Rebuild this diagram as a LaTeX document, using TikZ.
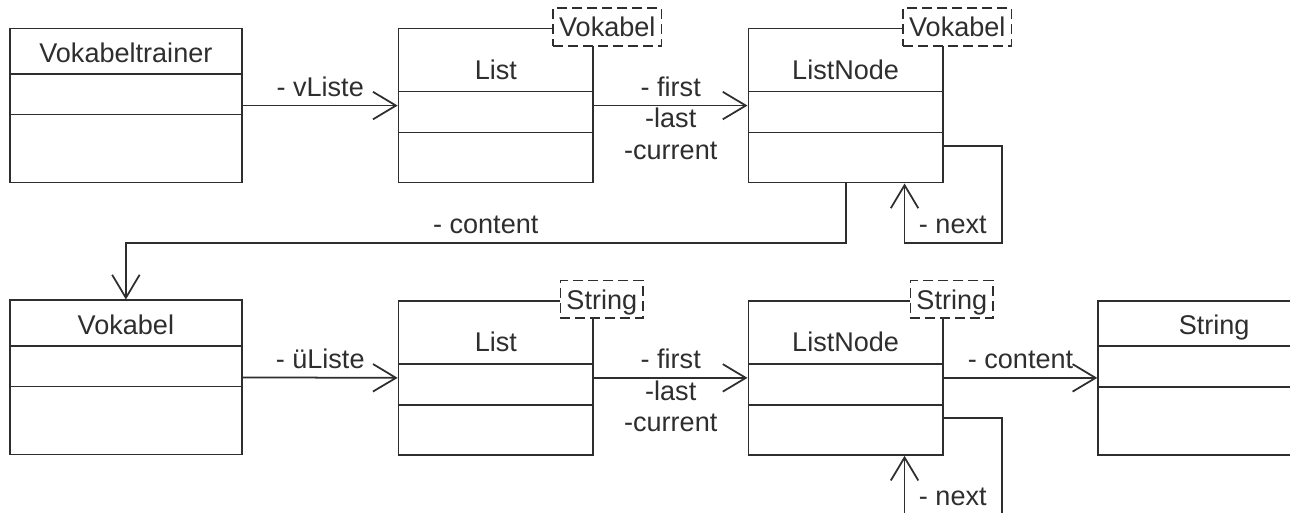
\documentclass[tikz,border=0pt]{standalone}
\usepackage{fontspec}
\setmainfont{Liberation Sans}
\usetikzlibrary{positioning,calc,arrows.meta,shapes.multipart}
\definecolor{ink}{HTML}{2E2E2E}
\tikzset{
  cls/.style  ={draw=ink, line width=1pt, rectangle split, rectangle split parts=3,
                inner sep=0pt, minimum width=4.64cm, anchor=north west,
                fill=white, text=ink, font=\fontsize{15.4}{18}\selectfont},
  gen/.style  ={cls, minimum width=3.89cm},
  % template parameter: dashed box over the top right corner
  tpl/.style  ={draw=ink, line width=1pt, dash pattern=on 0.2cm off 0.1cm,
                fill=white, inner xsep=0.12cm, inner ysep=0pt, minimum height=0.75cm,
                text height=0.4cm, text depth=0pt, text=ink,
                font=\fontsize{15.4}{18}\selectfont},
  assoc/.style={-{Straight Barb[length=0.46cm, width=0.55cm]}, draw=ink, line width=1pt},
  role/.style ={anchor=base, yshift=0.19cm, align=center, text=ink,
                font=\fontsize{15.4}{18}\selectfont},
  roles/.style={role, yshift=-1.27cm},
}
\begin{document}
\begin{tikzpicture}
    \useasboundingbox (0,0) rectangle (25.8,-10.26);
    \clip (0,0) rectangle (25.8,-10.26);
    \node[cls] (vt)   at (0.18,-0.554)  {\rule[-0.21cm]{0pt}{0.871cm}Vokabeltrainer
      \nodepart{two}\rule{0pt}{0.779cm}\nodepart{three}\rule{0pt}{1.325cm}};
    \node[gen] (lst1) at (7.954,-0.554) {\rule[-0.23cm]{0pt}{1.225cm}List
      \nodepart{two}\rule{0pt}{0.785cm}\nodepart{three}\rule{0pt}{0.965cm}};
    \node[gen] (ln1)  at (14.95,-0.554) {\rule[-0.23cm]{0pt}{1.225cm}ListNode
      \nodepart{two}\rule{0pt}{0.785cm}\nodepart{three}\rule{0pt}{0.965cm}};
    \node[cls] (vok)  at (0.18,-5.99)   {\rule[-0.21cm]{0pt}{0.871cm}Vokabel
      \nodepart{two}\rule{0pt}{0.779cm}\nodepart{three}\rule{0pt}{1.325cm}};
    \node[gen] (lst2) at (7.954,-6.0)   {\rule[-0.23cm]{0pt}{1.225cm}List
      \nodepart{two}\rule{0pt}{0.785cm}\nodepart{three}\rule{0pt}{0.965cm}};
    \node[gen] (ln2)  at (14.95,-6.0)   {\rule[-0.23cm]{0pt}{1.225cm}ListNode
      \nodepart{two}\rule{0pt}{0.785cm}\nodepart{three}\rule{0pt}{0.965cm}};
    \node[cls] (str)  at (21.946,-6.0)  {\rule[-0.21cm]{0pt}{0.871cm}String
      \nodepart{two}\rule{0pt}{0.779cm}\nodepart{three}\rule{0pt}{1.325cm}};
    \node[tpl] (tl1) at (12.146,-0.54)  {Vokabel};
    \node[tpl] (tn1) at (19.146,-0.54)  {Vokabel};
    \node[tpl] (tl2) at (12.036,-5.984) {String};
    \node[tpl] (tn2) at (19.036,-5.984) {String};
    \draw[assoc] (vt.east) -- node[role] {- vListe} (lst1.west);
    \draw[assoc] (lst1.east) -- node[roles] {- first\\-last\\-current} (ln1.west);
    \draw[assoc] (ln1.south) -- ++(0,-1.186) -| node[role, pos=0.25] {- content} (vok.north);
    \draw[assoc] ([yshift=0.75cm]ln1.south east) -| ++(1.17,-1.936)
      -| node[pos=0.5, anchor=south west, inner xsep=0.27cm, inner ysep=0.16cm,
              text=ink, font=\fontsize{15.4}{18}\selectfont] {- next}
         ([xshift=-0.784cm]ln1.south east);
    \draw[assoc] (vok.east) -- node[role] {- üListe} (lst2.west);
    \draw[assoc] (lst2.east) -- node[roles] {- first\\-last\\-current} (ln2.west);
    \draw[assoc] (ln2.east) -- node[role] {- content} (str.west);
    \draw[assoc] ([yshift=0.75cm]ln2.south east) -| ++(1.17,-1.936)
      -| node[pos=0.5, anchor=south west, inner xsep=0.27cm, inner ysep=0.16cm,
              text=ink, font=\fontsize{15.4}{18}\selectfont] {- next}
         ([xshift=-0.784cm]ln2.south east);
  \end{tikzpicture}
\end{document}
